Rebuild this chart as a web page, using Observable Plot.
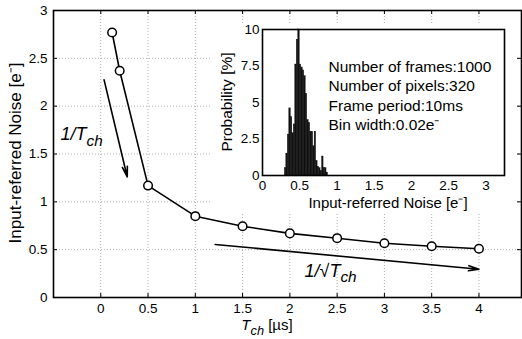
<!DOCTYPE html>
<html><head><meta charset="utf-8">
<script src="https://cdn.jsdelivr.net/npm/d3@7"></script>
<script src="https://cdn.jsdelivr.net/npm/@observablehq/plot@0.6"></script>
<style>
html,body{margin:0;padding:0;background:#fff;}
#wrap{position:relative;width:522px;height:339px;overflow:hidden;}
#wrap svg{position:absolute;overflow:visible;}
</style></head><body><div id="wrap"></div>
<script>
// ---- main series ----
const tch   = [0.12, 0.2, 0.5, 1.0, 1.5, 2.0, 2.5, 3.0, 3.5, 4.0];
const noise = [2.77, 2.37, 1.17, 0.85, 0.745, 0.67, 0.62, 0.567, 0.536, 0.51];
const xTicks = [0, 0.5, 1, 1.5, 2, 2.5, 3, 3.5, 4];
const yTicks = [0, 0.5, 1, 1.5, 2, 2.5, 3];
const xLabel = "T_{ch} [µs]";
const yLabel = "Input-referred Noise [e⁻]";
// ---- annotations ----
const arrowX1 = [0.035, 1.21];
const arrowY1 = [2.275, 0.554];
const arrowX2 = [0.28, 4.0];
const arrowY2 = [1.26, 0.296];
const annText = ["1/T_{ch}", "1/√T_{ch}"];
const annX = [-0.42, 2.16];
const annY = [1.64, 0.21];
// ---- inset histogram ----
const binStart = [0.30,0.32,0.34,0.36,0.38,0.40,0.42,0.44,0.46,0.48,0.50,0.52,0.54,0.56,0.58,0.60,0.62,0.64,0.66,0.68,0.70,0.72,0.74,0.76,0.78,0.80,0.82,0.84,0.86];
const binProb  = [0.5,1.5,2.8,4.6,4.0,2.9,3.5,7.6,9.3,10.0,7.6,7.4,7.2,6.8,5.6,3.8,3.6,3.0,3.0,2.0,3.0,1.0,0.6,0.5,0.3,1.3,0.5,0.5,0.2];
const binWidth = 0.02;
const hXTicks = [0, 0.5, 1, 1.5, 2, 2.5, 3];
const hYTicks = [0, 2.5, 5, 7.5, 10];
const hXLabel = "Input-referred Noise [e⁻]";
const hYLabel = "Probability [%]";
const infoLines = ["Number of frames:1000", "Number of pixels:320", "Frame period:10ms", "Bin width:0.02e⁻"];

const FONT = "'Liberation Sans', Arial, Helvetica, sans-serif";
const wrap = document.getElementById("wrap");

const pts = tch.map((t, i) => ({t, n: noise[i]}));
const arrows = arrowX1.map((x, i) => ({x1: x, y1: arrowY1[i], x2: arrowX2[i], y2: arrowY2[i]}));
const hist = binStart.map((b, i) => ({x0: b, x1: b + binWidth, p: binProb[i]}));

const W = 522, H = 339, mL = 53, mT = 10, mR = 1, mB = 42;
const fh = H - mT - mB, fw = W - mL - mR;
const grid = {stroke: "#b0b0b0", strokeOpacity: 1, strokeDasharray: "1,2", strokeWidth: 1};

const main = Plot.plot({
  width: W, height: H, marginLeft: mL, marginTop: mT, marginRight: mR, marginBottom: mB,
  style: {fontFamily: FONT, fontSize: "13.5px", color: "#000", background: "white"},
  x: {domain: [-0.5, 4.45]},
  y: {domain: [0, 3]},
  marks: [
    Plot.gridX(xTicks, grid),
    Plot.gridY(yTicks.slice(1, -1), grid),
    Plot.tickX(xTicks, {x: d => d, insetTop: fh - 4, stroke: "#000"}),
    Plot.tickX(xTicks, {x: d => d, insetBottom: fh - 4, stroke: "#000"}),
    Plot.tickY(yTicks, {y: d => d, insetRight: fw - 4, stroke: "#000"}),
    Plot.tickY(yTicks, {y: d => d, insetLeft: fw - 4, stroke: "#000"}),
    Plot.frame({stroke: "#000", strokeWidth: 1.6}),
    Plot.axisX(xTicks, {tickSize: 0, tickPadding: 6, label: null, tickFormat: d => String(d), fontSize: 13.5}),
    Plot.axisY(yTicks, {tickSize: 0, tickPadding: 6, label: null, tickFormat: d => String(d), fontSize: 13.5}),
    Plot.line(pts, {x: "t", y: "n", stroke: "#000", strokeWidth: 1.6}),
    Plot.dot(pts, {x: "t", y: "n", r: 4.3, fill: "white", stroke: "#000", strokeWidth: 1.5}),
    Plot.arrow(arrows, {x1: "x1", y1: "y1", x2: "x2", y2: "y2", stroke: "#000", strokeWidth: 1.6, headLength: 10, headAngle: 28})
  ]
});
main.style.left = "0px"; main.style.top = "0px";
wrap.appendChild(main);

function richText(g, str, {x, y, size, italicAll = false, anchor = "start", transform = null}) {
  const t = g.append("text").attr("font-family", FONT).attr("font-size", size)
    .attr("text-anchor", anchor).attr("fill", "#000").style("white-space", "pre");
  if (transform) t.attr("transform", transform); else t.attr("x", x).attr("y", y);
  if (italicAll) t.attr("font-style", "italic");
  const m = str.match(/^(.*?)_\{(.*?)\}(.*)$/);
  if (!m) { t.text(str); return t; }
  t.append("tspan").attr("font-style", "italic").text(m[1]);
  t.append("tspan").attr("font-style", "italic").attr("dy", size * 0.3).attr("font-size", size * 0.85).text(m[2]);
  if (m[3]) t.append("tspan").attr("dy", -size * 0.3).attr("font-style", italicAll ? "italic" : "normal").text(m[3]);
  return t;
}

const sx = main.scale("x"), sy = main.scale("y");
const gm = d3.select(main).append("g");
annText.forEach((s, i) => richText(gm, s, {x: sx.apply(annX[i]), y: sy.apply(annY[i]), size: 18, italicAll: true}));
richText(gm, xLabel, {x: 267, y: 330, size: 15, anchor: "middle"});
richText(gm, yLabel, {size: 17, anchor: "middle", transform: "translate(21,153) rotate(-90)"});

// ---- inset ----
const iLeft = 212, iTop = 23, iW = 304, iH = 190;
const inset = Plot.plot({
  width: iW, height: iH, marginLeft: 262 - iLeft, marginTop: 29 - iTop, marginRight: iLeft + iW - 504, marginBottom: iTop + iH - 175,
  style: {fontFamily: FONT, fontSize: "13.5px", color: "#000", background: "white"},
  x: {domain: [0, 3.25]},
  y: {domain: [0, 10]},
  marks: [
    Plot.rectY(hist, {x1: "x0", x2: "x1", y: "p", fill: "#111", stroke: "#111", strokeWidth: 0.4, inset: 0}),
    Plot.frame({stroke: "#000", strokeWidth: 1.6}),
    Plot.axisX(hXTicks, {tickSize: 0, tickPadding: 5, label: null, tickFormat: d => String(d), fontSize: 13.5}),
    Plot.axisY(hYTicks, {tickSize: 0, tickPadding: 3, label: null, tickFormat: d => String(d), fontSize: 13.5}),
    Plot.text([infoLines.join("\n")], {frameAnchor: "top-left", dx: 66, dy: 29, lineAnchor: "top", textAnchor: "start", lineHeight: 1.245, fontSize: 15.5, fill: "#000"})
  ]
});
inset.style.left = iLeft + "px"; inset.style.top = iTop + "px";
wrap.appendChild(inset);
const gi = d3.select(inset).append("g");
richText(gi, hXLabel, {x: 388 - iLeft, y: 208 - iTop, size: 15, anchor: "middle"});
richText(gi, hYLabel, {size: 15.5, anchor: "middle", transform: `translate(${232 - iLeft},${102 - iTop}) rotate(-90)`});
</script></body></html>
